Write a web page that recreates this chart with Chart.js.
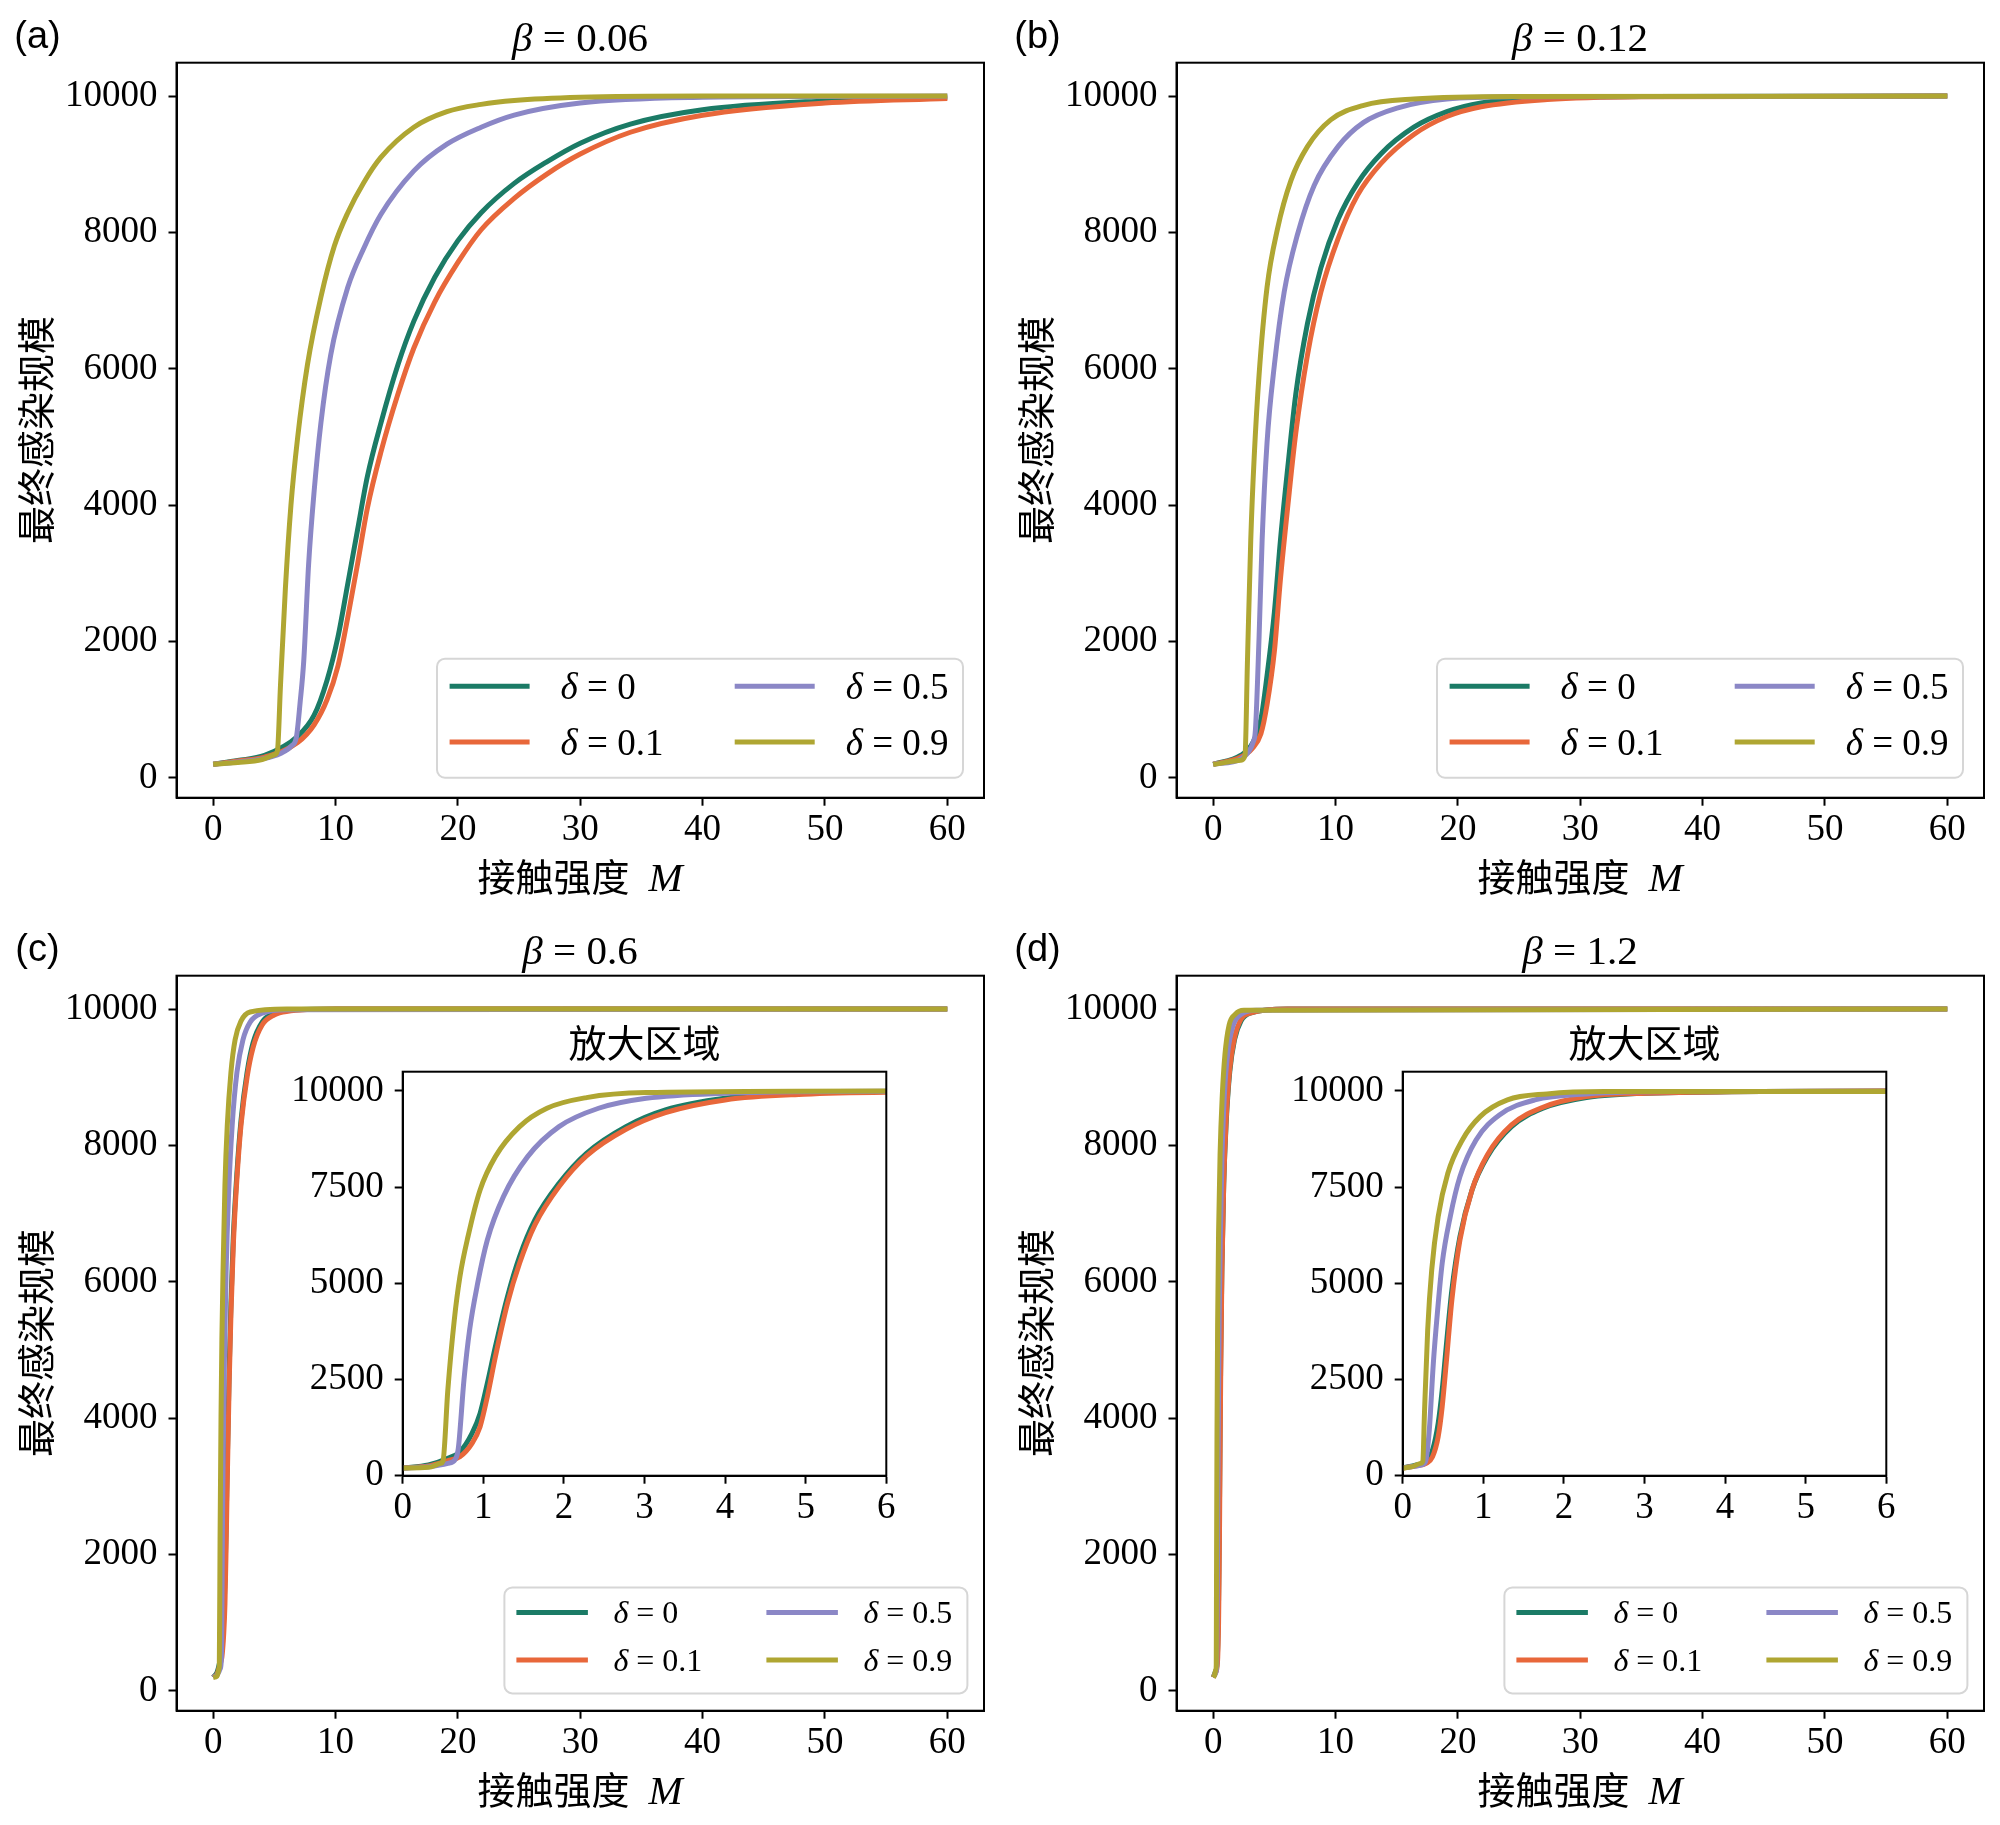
<!DOCTYPE html>
<html><head><meta charset="utf-8">
<script src="https://cdn.jsdelivr.net/npm/chart.js@4.4.1/dist/chart.umd.min.js"></script>
<style>
html,body{margin:0;padding:0;background:#fff;}
#wrap{position:relative;width:2000px;height:1825px;background:#fff;overflow:hidden;}
canvas{position:absolute;}
.t{position:absolute;white-space:nowrap;line-height:1;color:#000;}
.plab{font-family:'Liberation Sans',Arial,sans-serif;font-size:38px;}
.ptitle{font-family:'Liberation Serif',serif;font-size:41px;}
.atitle{font-family:'Liberation Serif','Noto Sans CJK SC',serif;font-size:38px;}
.mi{font-family:'Liberation Serif',serif;font-style:italic;font-size:41px;}
</style></head>
<body><div id="wrap"></div>
<script>
// ---------- labels / ticks ----------
const panelLabels = ['(a)', '(b)', '(c)', '(d)'];
const betaLabels = ['0.06', '0.12', '0.6', '1.2'];
const deltaLabels = ['0', '0.1', '0.5', '0.9'];
const xTitle = '接触强度';
const yTitle = '最终感染规模';
const insetTitle = '放大区域';
const xTicksMain = [0, 10, 20, 30, 40, 50, 60];
const yTicksMain = [0, 2000, 4000, 6000, 8000, 10000];
const xTicksInset = [0, 1, 2, 3, 4, 5, 6];
const yTicksInset = [0, 2500, 5000, 7500, 10000];

// ---------- data: panel (a) beta = 0.06 ----------
const a_M0 = [0, 2, 4.2, 6.9, 8.25, 9.3, 10.2, 11, 11.8, 12.6, 13.7, 15.1, 16.4, 18.1, 20, 21.9, 24.6, 27.3, 30, 34.1, 40, 50, 60];
const a_V0 = [200, 255, 330, 610, 920, 1430, 2070, 2850, 3640, 4420, 5200, 6060, 6700, 7340, 7880, 8290, 8720, 9040, 9310, 9590, 9800, 9930, 9983];
const a_M1 = [0, 2, 4.2, 6.9, 8.25, 9.3, 10.2, 11, 11.8, 12.6, 13.7, 15.1, 16.4, 18.1, 20, 21.9, 24.6, 27.3, 30, 34.1, 40, 50, 60];
const a_V1 = [200, 250, 306, 520, 780, 1146, 1644, 2356, 3140, 3957, 4775, 5630, 6306, 6980, 7560, 8040, 8500, 8860, 9150, 9470, 9720, 9899, 9966];
const a_M2 = [0, 2, 4, 5.5, 6.4, 6.8, 7.1, 7.4, 7.8, 8.25, 8.8, 9.6, 11, 12.3, 13.7, 16.4, 19.1, 21.9, 24.6, 30, 40, 50, 60];
const a_V2 = [200, 235, 280, 360, 470, 600, 1100, 1715, 3140, 4206, 5202, 6200, 7195, 7765, 8263, 8903, 9295, 9544, 9722, 9899, 9983, 9995, 10000];
const a_M3 = [0, 2, 4, 5.0, 5.25, 5.5, 5.9, 6.35, 6.9, 7.7, 8.8, 9.9, 11, 12.3, 13.7, 16.4, 19.1, 21.9, 24.6, 30, 40, 60];
const a_V3 = [200, 225, 270, 340, 400, 1360, 2780, 3993, 4990, 6056, 7050, 7800, 8290, 8730, 9100, 9544, 9772, 9879, 9936, 9983, 10000, 10000];

// ---------- data: panel (b) beta = 0.12 ----------
const b_M0 = [0, 2.25, 3.2, 3.9, 4.4, 5.0, 5.5, 6.1, 6.75, 7.7, 8.8, 10.2, 11.8, 13.7, 16.4, 19.1, 21.9, 27.3, 35, 60];
const b_V0 = [200, 330, 505, 860, 1500, 2430, 3495, 4562, 5630, 6660, 7480, 8190, 8725, 9152, 9544, 9772, 9900, 9971, 9995, 10000];
const b_M1 = [0, 2.25, 3.2, 3.9, 4.4, 5.0, 5.5, 6.1, 6.75, 7.7, 8.8, 10.2, 11.8, 13.7, 16.4, 19.1, 21.9, 27.3, 35, 60];
const b_V1 = [200, 306, 434, 648, 1075, 1857, 2925, 3993, 5060, 6200, 7124, 7907, 8548, 9010, 9437, 9700, 9843, 9950, 9990, 10000];
const b_M2 = [0, 2.25, 2.95, 3.25, 3.45, 3.75, 4.0, 4.4, 5.0, 5.8, 6.9, 8.25, 10.2, 12.3, 15.1, 19.1, 25, 60];
const b_V2 = [200, 278, 400, 520, 700, 2071, 3495, 4918, 6056, 7124, 7978, 8690, 9259, 9615, 9829, 9957, 9990, 10000];
const b_M3 = [0, 2.25, 2.6, 2.8, 3.07, 3.35, 3.75, 4.4, 5.25, 6.35, 7.7, 9.6, 12.3, 16.4, 25, 60];
const b_V3 = [200, 260, 330, 1715, 3495, 4704, 5914, 7195, 8049, 8760, 9259, 9651, 9865, 9957, 9995, 10000];

// ---------- data: panel (c) beta = 0.6 ----------
const c_M0 = [0, 0.32, 0.56, 0.71, 0.86, 0.96, 1.05, 1.15, 1.3, 1.45, 1.64, 1.94, 2.28, 2.77, 3.26, 4.0, 4.98, 6, 10, 60];
const c_V0 = [200, 277, 450, 624, 1100, 1620, 2400, 3354, 4654, 5694, 6647, 7600, 8380, 9073, 9507, 9810, 9940, 9983, 10000, 10000];
const c_M1 = [0, 0.32, 0.56, 0.71, 0.86, 0.96, 1.05, 1.15, 1.3, 1.45, 1.64, 1.94, 2.28, 2.77, 3.26, 4.0, 4.98, 6, 10, 60];
const c_V1 = [200, 251, 390, 494, 840, 1274, 2054, 3094, 4480, 5520, 6517, 7513, 8311, 9004, 9437, 9767, 9914, 9966, 10000, 10000];
const c_M2 = [0, 0.32, 0.56, 0.65, 0.69, 0.76, 0.83, 0.93, 1.05, 1.25, 1.55, 1.94, 2.43, 3.02, 4.0, 6, 60];
const c_V2 = [200, 234, 320, 420, 710, 2487, 3787, 5000, 6127, 7254, 8293, 9073, 9550, 9810, 9940, 9992, 10000];
const c_M3 = [0, 0.32, 0.47, 0.5, 0.56, 0.64, 0.71, 0.81, 0.96, 1.15, 1.45, 1.79, 2.28, 3.02, 6, 60];
const c_V3 = [200, 217, 320, 380, 2227, 4047, 5174, 6213, 7427, 8293, 9073, 9550, 9827, 9957, 10000, 10000];

// ---------- data: panel (d) beta = 1.2 ----------
const d_M0 = [0, 0.17, 0.29, 0.37, 0.44, 0.49, 0.54, 0.61, 0.71, 0.86, 1.05, 1.35, 1.74, 2.28, 3.02, 6, 60];
const d_V0 = [200, 277, 364, 667, 1360, 2227, 3354, 4827, 6213, 7427, 8293, 9073, 9550, 9827, 9940, 10000, 10000];
const d_M1 = [0, 0.17, 0.29, 0.37, 0.44, 0.49, 0.54, 0.61, 0.71, 0.86, 1.05, 1.35, 1.74, 2.28, 3.02, 6, 60];
const d_V1 = [200, 260, 320, 494, 1014, 1794, 2920, 4567, 6127, 7427, 8336, 9117, 9576, 9853, 9940, 10000, 10000];
const d_M2 = [0, 0.17, 0.27, 0.29, 0.33, 0.38, 0.43, 0.49, 0.59, 0.71, 0.91, 1.2, 1.64, 2.28, 3.5, 60];
const d_V2 = [200, 251, 320, 420, 1187, 2920, 4220, 5520, 6733, 7773, 8727, 9377, 9767, 9923, 9983, 10000];
const d_M3 = [0, 0.12, 0.22, 0.25, 0.27, 0.31, 0.36, 0.44, 0.56, 0.74, 0.96, 1.3, 1.79, 2.5, 60];
const d_V3 = [200, 234, 320, 380, 1620, 3787, 5347, 6733, 7860, 8727, 9333, 9767, 9923, 9983, 10000];

const panelData = [
  [[a_M0, a_V0], [a_M1, a_V1], [a_M2, a_V2], [a_M3, a_V3]],
  [[b_M0, b_V0], [b_M1, b_V1], [b_M2, b_V2], [b_M3, b_V3]],
  [[c_M0, c_V0], [c_M1, c_V1], [c_M2, c_V2], [c_M3, c_V3]],
  [[d_M0, d_V0], [d_M1, d_V1], [d_M2, d_V2], [d_M3, d_V3]]
];

// ---------- styles ----------
const colors = ['#1b7b66', '#e8673a', '#8b87c6', '#afa632'];
const SERIF = "'Liberation Serif','DejaVu Serif',serif";
const LINE_W = 5;
const TICK_FONT = 37;

const wrap = document.getElementById('wrap');

const framePlugin = {
  id: 'frame',
  beforeDraw(chart, args, opts) {
    if (opts && opts.whiteBg) {
      const {ctx, chartArea: ca} = chart;
      ctx.save(); ctx.fillStyle = '#fff';
      ctx.fillRect(ca.left, ca.top, ca.right - ca.left, ca.bottom - ca.top);
      ctx.restore();
    }
  },
  afterDatasetsDraw(chart) {
    const {ctx, chartArea: ca} = chart;
    ctx.save(); ctx.strokeStyle = '#000'; ctx.lineWidth = 2;
    ctx.strokeRect(ca.left, ca.top, ca.right - ca.left, ca.bottom - ca.top);
    ctx.restore();
  }
};

const legendPlugin = {
  id: 'cornerLegend',
  afterDraw(chart, args, L) {
    if (!L || !L.show) return;
    const ctx = chart.ctx, ca = chart.chartArea;
    const bx = ca.right - L.rightGap - L.w, by = ca.bottom - L.bottomGap - L.h;
    const r = 8;
    ctx.save();
    ctx.beginPath();
    ctx.moveTo(bx + r, by);
    ctx.lineTo(bx + L.w - r, by); ctx.arcTo(bx + L.w, by, bx + L.w, by + r, r);
    ctx.lineTo(bx + L.w, by + L.h - r); ctx.arcTo(bx + L.w, by + L.h, bx + L.w - r, by + L.h, r);
    ctx.lineTo(bx + r, by + L.h); ctx.arcTo(bx, by + L.h, bx, by + L.h - r, r);
    ctx.lineTo(bx, by + r); ctx.arcTo(bx, by, bx + r, by, r);
    ctx.closePath();
    ctx.fillStyle = 'rgba(255,255,255,0.85)'; ctx.fill();
    ctx.strokeStyle = '#d6d6d6'; ctx.lineWidth = 2; ctx.stroke();
    chart.data.datasets.forEach((ds, i) => {
      const col = Math.floor(i / 2), row = i % 2;
      const x0 = bx + L.colX[col], y = by + L.rowY[row];
      ctx.strokeStyle = ds.borderColor; ctx.lineWidth = LINE_W; ctx.lineCap = 'butt';
      ctx.beginPath(); ctx.moveTo(x0, y); ctx.lineTo(x0 + L.lineLen, y); ctx.stroke();
      let tx = x0 + L.textOff;
      const base = y + 0.338 * L.fontSize;
      ctx.fillStyle = '#000'; ctx.textAlign = 'left'; ctx.textBaseline = 'alphabetic';
      ctx.font = 'italic ' + L.fontSize + 'px ' + SERIF;
      ctx.fillText('δ', tx, base);
      tx += ctx.measureText('δ').width;
      ctx.font = L.fontSize + 'px ' + SERIF;
      ctx.fillText(' = ' + deltaLabels[i], tx, base);
    });
    ctx.restore();
  }
};

function axisCommon(min, max, ticks, fitSize, isX, pad) {
  return {
    type: 'linear', min: min, max: max,
    afterBuildTicks: s => { s.ticks = ticks.map(v => ({value: v})); },
    afterFit: s => { if (isX) s.height = fitSize; else s.width = fitSize; },
    ticks: {font: {family: SERIF, size: TICK_FONT}, color: '#000', padding: pad, callback: v => String(v), autoSkip: false, maxRotation: 0},
    grid: {display: true, drawOnChartArea: false, drawTicks: true, tickLength: 8, tickWidth: 2, tickColor: '#000'},
    border: {display: true, color: '#000', width: 2}
  };
}

function makeDatasets(p) {
  return panelData[p].map((s, i) => ({
    label: 'δ=' + deltaLabels[i],
    data: s[0].map((m, j) => ({x: m, y: s[1][j]})),
    borderColor: colors[i], backgroundColor: colors[i],
    borderWidth: LINE_W, pointRadius: 0, fill: false,
    cubicInterpolationMode: 'monotone', order: 3 - i
  }));
}

function addCanvas(left, top, w, h) {
  const c = document.createElement('canvas');
  c.width = w; c.height = h;
  c.style.left = left + 'px'; c.style.top = top + 'px';
  c.style.width = w + 'px'; c.style.height = h + 'px';
  wrap.appendChild(c);
  return c;
}

function addText(html, cx, cy, cls, rot) {
  const d = document.createElement('div');
  d.className = 't ' + cls; d.innerHTML = html;
  d.style.left = cx + 'px'; d.style.top = cy + 'px';
  d.style.transform = 'translate(-50%,-50%)' + (rot ? ' rotate(-90deg)' : '');
  wrap.appendChild(d);
}

const bigLegend = {show: true, w: 526, h: 119, rightGap: 21, bottomGap: 20, colX: [12.6, 297.7], rowY: [27.6, 83.3], lineLen: 80, textOff: 111, fontSize: 37};
const smallLegend = {show: true, w: 463, h: 106, rightGap: 16.6, bottomGap: 17.3, colX: [12, 262], rowY: [25, 72.6], lineLen: 71.5, textOff: 97, fontSize: 32};

const origins = [[0, 0], [1000, 0], [0, 913], [1000, 913]];

origins.forEach((o, p) => {
  const [ox, oy] = o;
  const cv = addCanvas(ox, oy, 1000, 913);
  new Chart(cv, {
    type: 'line',
    data: {datasets: makeDatasets(p)},
    options: {
      responsive: false, animation: false, events: [], devicePixelRatio: 1,
      layout: {padding: {left: 0, top: 62.7, right: 16, bottom: 0}},
      plugins: {legend: {display: false}, tooltip: {enabled: false}, title: {display: false},
        cornerLegend: p < 2 ? bigLegend : smallLegend, frame: {whiteBg: false}},
      scales: {
        x: axisCommon(-3, 63, xTicksMain, 115.3, true, 2),
        y: axisCommon(-290, 10490, yTicksMain, 176.5, false, 11)
      }
    },
    plugins: [framePlugin, legendPlugin]
  });
  addText(panelLabels[p], ox + 37.5, oy + 35, 'plab');
  addText('<i>β</i> = ' + betaLabels[p], ox + 580, oy + 37, 'ptitle');
  addText(xTitle + '&nbsp; <span class="mi">M</span>', ox + 580, oy + 877, 'atitle');
  addText(yTitle, ox + 37, oy + 430, 'atitle', true);
});

// insets for (c) and (d)
[2, 3].forEach(p => {
  const [ox, oy] = origins[p];
  const cv = addCanvas(ox + 290, oy + 107, 620, 520);
  new Chart(cv, {
    type: 'line',
    data: {datasets: makeDatasets(p)},
    options: {
      responsive: false, animation: false, events: [], devicePixelRatio: 1,
      layout: {padding: {left: 0, top: 51.7, right: 23.7, bottom: 0}},
      plugins: {legend: {display: false}, tooltip: {enabled: false}, title: {display: false},
        cornerLegend: {show: false}, frame: {whiteBg: true}},
      scales: {
        x: axisCommon(0, 6, xTicksInset, 64.3, true, 2),
        y: axisCommon(0, 10500, yTicksInset, 112.7, false, 11)
      }
    },
    plugins: [framePlugin, legendPlugin]
  });
  addText(insetTitle, ox + 644.5, oy + 131, 'atitle');
});
</script>
</body></html>
